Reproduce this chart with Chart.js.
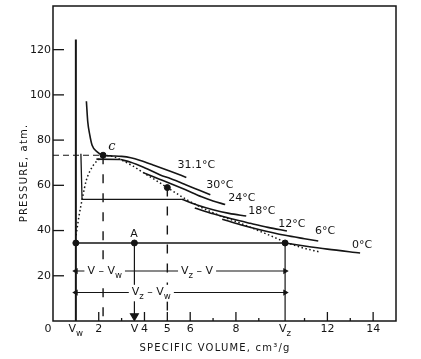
<!DOCTYPE html>
<html>
<head>
<meta charset="utf-8">
<script src="https://cdn.jsdelivr.net/npm/chart.js@4.4.1/dist/chart.umd.min.js"></script>
<style>
  body { margin: 0; background: #fff; }
  #wrap { width: 421px; height: 359px; }
</style>
</head>
<body>
<div id="wrap"><canvas id="myChart"></canvas></div>
<script>
// axis ticks
const xTickVals = [0, 1.0, 2, 3.56, 4, 5, 6, 8, 10.15, 12, 14];
const xTickText = ['0', 'V_w', '2', 'V', '4', '5', '6', '8', 'V_z', '12', '14'];
const xMinorTicks = [3, 7, 9, 11, 13];
const yTickVals = [20, 40, 60, 80, 100, 120];

// isotherms (specific volume cm3/g, pressure atm)
const iso31 = [[1.46, 97.2], [1.52, 88.1], [1.61, 82.2], [1.71, 77.7], [1.93, 74.8], [2.19, 73.3], [2.6, 73.0], [3.0, 72.8], [3.4, 72.2], [3.82, 71.0], [4.4, 68.9], [5.13, 66.2], [5.83, 63.5]];
const iso30 = [[2.95, 71.4], [3.4, 70.2], [4.0, 67.8], [4.69, 64.6], [5.13, 63.0], [5.8, 60.3], [6.4, 57.8], [6.88, 55.8]];
const iso30flat = [[1.9, 71.6], [2.95, 71.4]];
const iso24 = [[3.97, 65.5], [4.5, 63.3], [5.13, 60.8], [5.8, 58.0], [6.5, 54.9], [7.0, 53.1], [7.53, 51.5]];
const iso18flat = [[1.22, 74.0], [1.27, 53.8], [5.64, 53.8]];
const iso18 = [[5.64, 53.8], [6.3, 51.3], [7.0, 49.2], [7.7, 47.6], [8.45, 46.4]];
const iso12 = [[6.2, 50.0], [7.0, 47.4], [7.8, 45.2], [8.62, 43.2], [9.4, 41.4], [10.23, 39.8]];
const iso6 = [[7.4, 45.0], [8.2, 42.6], [9.0, 40.5], [10.15, 37.9], [11.0, 36.4], [11.6, 35.4]];
const iso0flat = [[1.0, 34.5], [10.15, 34.5]];
const iso0 = [[10.15, 34.5], [11.0, 33.2], [12.0, 31.8], [13.43, 30.1]];
const liquidWall = [[1.0, 0], [1.0, 124.5]];

// saturation dome (dotted)
const domeLiquid = [[1.01, 37.9], [1.13, 46.0], [1.3, 55.0], [1.45, 62.0], [1.65, 67.0], [1.85, 70.0], [2.04, 71.8], [2.19, 73.3]];
const domeVapor = [[2.19, 73.3], [2.6, 72.8], [2.95, 71.4], [3.5, 68.5], [3.97, 65.5], [4.5, 62.2], [5.0, 59.0], [5.86, 53.6], [6.5, 50.2], [7.2, 47.0], [8.0, 44.0], [8.62, 41.5], [9.4, 38.2], [10.15, 35.0], [10.9, 32.4], [11.68, 30.5]];

// construction lines
const critDash = [[0, 73.3], [2.19, 73.3]];
const critDrop = [[2.19, 73.3], [2.19, 0]];
const fiveDrop = [[5.0, 59.0], [5.0, 0]];
const aDrop = [[3.56, 34.5], [3.56, 2.2]];
const vzDrop = [[10.15, 34.5], [10.15, 0]];
const dimUpper = [[1.0, 22.1], [10.15, 22.1]];
const dimLower = [[1.0, 12.6], [10.15, 12.6]];
const marked = [[1.0, 34.5], [3.56, 34.5], [10.15, 34.5], [2.19, 73.3], [5.0, 59.0]];

// text
const curveLabels = [['31.1°C', 5.44, 68.9], ['30°C', 6.7, 60.0], ['24°C', 7.66, 54.5], ['18°C', 8.54, 48.5], ['12°C', 9.85, 42.8], ['6°C', 11.46, 39.7], ['0°C', 13.08, 33.5], ['A', 3.38, 38.4]];
const dimLabels = [['V – V_w', 2.26, 22.1], ['V_z – V', 6.3, 22.1], ['V_z – V_w', 4.3, 12.6]];

const ink = '#151515';
const pts = arr => arr.map(p => ({ x: p[0], y: p[1] }));

let line = (data, opts) => Object.assign({
  data: pts(data), showLine: true, borderColor: ink, borderWidth: 1.6,
  pointRadius: 0, fill: false, tension: 0
}, opts || {});

function parts(text) {
  let out = [], buf = '', i = 0;
  while (i < text.length) {
    if (text[i] === '_') {
      if (buf) out.push({ t: buf, sub: false });
      buf = '';
      out.push({ t: text[i + 1], sub: true });
      i += 2;
    } else { buf += text[i]; i++; }
  }
  if (buf) out.push({ t: buf, sub: false });
  return out;
}

function drawRich(ctx, text, x, y, size, align, bg) {
  let ps = parts(text);
  let widths = ps.map(p => {
    ctx.font = (p.sub ? size * 0.78 : size) + 'px "DejaVu Sans"';
    return ctx.measureText(p.t).width;
  });
  let total = widths.reduce((a, b) => a + b, 0);
  let x0 = align === 'center' ? x - total / 2 : align === 'right' ? x - total : x;
  if (bg) {
    ctx.fillStyle = '#fff';
    ctx.fillRect(x0 - 3, y - size * 0.7, total + 6, size * 1.5);
  }
  ctx.fillStyle = ink;
  ctx.textAlign = 'left';
  ctx.textBaseline = 'middle';
  ps.forEach((p, k) => {
    ctx.font = (p.sub ? size * 0.78 : size) + 'px "DejaVu Sans"';
    ctx.fillText(p.t, x0, p.sub ? y + size * 0.4 : y);
    x0 += widths[k];
  });
}

const frame = {
  id: 'frame',
  afterDatasetsDraw(chart) {
    const { ctx, chartArea: a, scales } = chart;
    const xs = scales.x, ys = scales.y;
    ctx.save();
    ctx.strokeStyle = ink;
    ctx.lineWidth = 1.5;
    ctx.strokeRect(a.left, a.top, a.right - a.left, a.bottom - a.top);

    // inner ticks
    ctx.lineWidth = 1.3;
    yTickVals.forEach(v => {
      let py = ys.getPixelForValue(v);
      ctx.beginPath(); ctx.moveTo(a.left, py); ctx.lineTo(a.left + 11, py); ctx.stroke();
      drawRich(ctx, String(v), a.left - 2, py, 11, 'right');
    });
    [2, 4, 5, 6, 8, 12, 14].forEach(v => {
      let px = xs.getPixelForValue(v);
      ctx.beginPath(); ctx.moveTo(px, a.bottom); ctx.lineTo(px, a.bottom - 9); ctx.stroke();
    });
    xMinorTicks.forEach(v => {
      let px = xs.getPixelForValue(v);
      ctx.beginPath(); ctx.moveTo(px, a.bottom); ctx.lineTo(px, a.bottom - 3); ctx.stroke();
    });
    xTickVals.forEach((v, i) => {
      let px = xs.getPixelForValue(v);
      if (v === 0) px -= 5;
      drawRich(ctx, xTickText[i], px, a.bottom + 8, 11, 'center');
    });

    curveLabels.forEach(l => {
      drawRich(ctx, l[0], xs.getPixelForValue(l[1]), ys.getPixelForValue(l[2]), 11, 'left');
    });
    dimLabels.forEach(l => {
      drawRich(ctx, l[0], xs.getPixelForValue(l[1]), ys.getPixelForValue(l[2]), 11, 'center', true);
    });
    // the handwritten C at the critical point
    ctx.font = 'italic 13px "DejaVu Serif"';
    ctx.fillStyle = ink;
    ctx.textAlign = 'left';
    ctx.fillText('c', xs.getPixelForValue(2.42), ys.getPixelForValue(77.1));

    // axis titles
    ctx.font = '10px "DejaVu Sans"';
    ctx.letterSpacing = '1.2px';
    ctx.textAlign = 'center';
    ctx.textBaseline = 'middle';
    ctx.fillText('SPECIFIC VOLUME, cm³/g', 215, 348);
    ctx.translate(24, 173);
    ctx.rotate(-Math.PI / 2);
    ctx.fillText('PRESSURE, atm.', 0, 0);
    ctx.restore();
  }
};

let ctx = document.getElementById('myChart').getContext('2d');
let chart = new Chart(ctx, {
  type: 'scatter',
  data: {
    datasets: [
      line(liquidWall, { borderWidth: 2 }),
      line(iso31, { cubicInterpolationMode: 'monotone' }),
      line(iso30flat),
      line(iso30, { cubicInterpolationMode: 'monotone' }),
      line(iso24, { cubicInterpolationMode: 'monotone' }),
      line(iso18flat, { borderWidth: 1.3 }),
      line(iso18, { cubicInterpolationMode: 'monotone' }),
      line(iso12, { cubicInterpolationMode: 'monotone' }),
      line(iso6, { cubicInterpolationMode: 'monotone' }),
      line(iso0flat, { borderWidth: 1.3 }),
      line(iso0, { cubicInterpolationMode: 'monotone' }),
      line(domeLiquid, { borderDash: [1.5, 2.5], cubicInterpolationMode: 'monotone', borderWidth: 1.5 }),
      line(domeVapor, { borderDash: [1.5, 2.5], cubicInterpolationMode: 'monotone', borderWidth: 1.5 }),
      line(critDash, { borderDash: [6, 4], borderWidth: 1.2 }),
      line(critDrop, { borderDash: [9, 10], borderWidth: 1.4 }),
      line(fiveDrop, { borderDash: [9, 10], borderWidth: 1.4 }),
      line(aDrop, { borderWidth: 1.2, pointRadius: [0, 4.5], pointStyle: 'triangle', pointRotation: 180, pointBackgroundColor: ink, pointBorderColor: ink }),
      line(vzDrop, { borderWidth: 1.2 }),
      line(dimUpper, { borderWidth: 1.1, pointRadius: 2.5, pointStyle: 'triangle', pointRotation: [270, 90], pointBackgroundColor: ink, pointBorderColor: ink }),
      line(dimLower, { borderWidth: 1.1, pointRadius: 2.5, pointStyle: 'triangle', pointRotation: [270, 90], pointBackgroundColor: ink, pointBorderColor: ink }),
      { data: pts(marked), pointRadius: 3, pointBackgroundColor: ink, pointBorderColor: ink, showLine: false }
    ]
  },
  options: {
    responsive: true,
    maintainAspectRatio: false,
    animation: false,
    layout: { padding: { left: 53, right: 25, top: 6, bottom: 38 } },
    plugins: { legend: { display: false }, tooltip: { enabled: false } },
    scales: {
      x: { type: 'linear', min: 0, max: 15, display: false },
      y: { type: 'linear', min: 0, max: 139.3, display: false }
    }
  },
  plugins: [frame]
});
</script>
</body>
</html>
